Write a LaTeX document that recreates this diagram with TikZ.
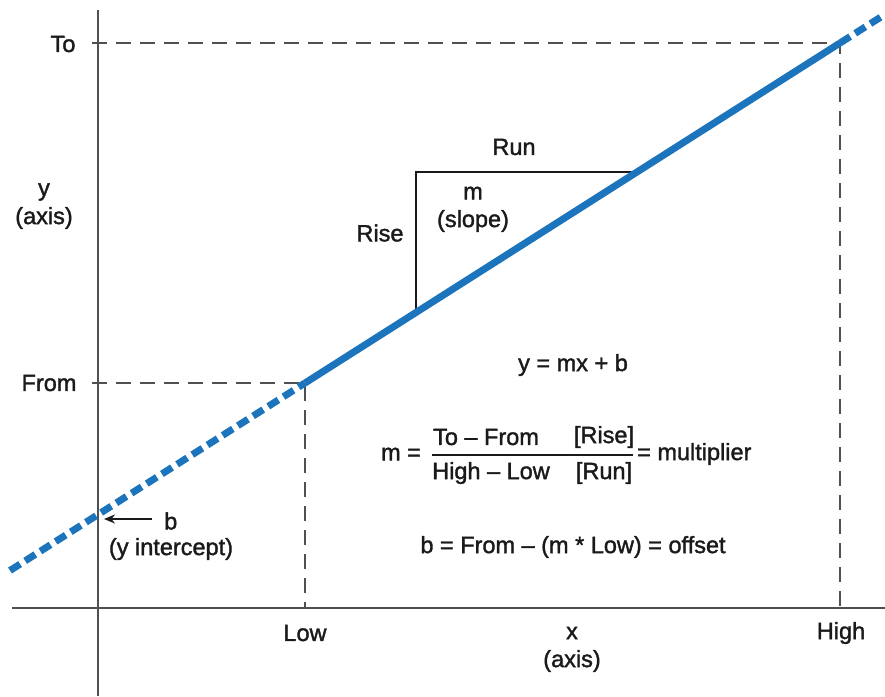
\documentclass[tikz,border=0pt]{standalone}
\usepackage{fontspec}
\setmainfont{Liberation Sans}[FakeBold=1.5]
\usetikzlibrary{arrows.meta}
\definecolor{lineblue}{HTML}{1C75BC}
\definecolor{axisgray}{HTML}{505050}
\definecolor{txt}{HTML}{1A1A1A}
\begin{document}
\begin{tikzpicture}[x=1pt,y=-1pt,
  lbl/.style={inner sep=0pt,text=txt,font=\fontsize{23.5}{27}\selectfont,anchor=center},
  axisline/.style={draw=axisgray,line width=1.5pt},
  guide/.style={draw=axisgray,line width=1.3pt,dash pattern=on 15pt off 9pt},
  solidblue/.style={draw=lineblue,line width=7pt},
  dashblue/.style={draw=lineblue,line width=7pt,dash pattern=on 12pt off 6pt},
  tri/.style={draw=txt,line width=1.8pt}]
\useasboundingbox (0,0) rectangle (885,696);
% coordinates
\coordinate (ytop) at (98,10);
\coordinate (ybot) at (98,696);
\coordinate (xl) at (12,608);
\coordinate (xr) at (885,608);
\coordinate (P1) at (305,383);
\coordinate (P2) at (840,43);
\coordinate (Pend1) at (10,570.5);
\coordinate (Pend2) at (882,16.3);
\coordinate (toL) at (92,43);
\coordinate (fromL) at (92,383);
\coordinate (lowB) at (305,608);
\coordinate (highB) at (840,608);
\coordinate (triB) at (416,312.5);
\coordinate (triC) at (416,172);
\coordinate (triR) at (637,172);
\coordinate (arS) at (152,519);
\coordinate (arE) at (104,519);
% axes
\draw[axisline] (ytop) -- (ybot);
\draw[axisline] (xl) -- (xr);
% guides
\draw[guide] (toL) -- (P2) -- (highB);
\draw[guide] (fromL) -- (P1) -- (lowB);
% triangle
\draw[tri] (triB) -- (triC) -- (triR);
% line
\draw[dashblue] (Pend1) -- (P1);
\draw[dashblue] (P2) -- (Pend2);
\draw[solidblue,line cap=butt] (P1) -- (P2);
% arrow
\draw[draw=txt,line width=1.8pt,-{Stealth[length=11pt,width=9pt]}] (arS) -- (arE);
% labels
\node[lbl] (lto) at (63,44) {To};
\node[lbl] (lfrom) at (49,383) {From};
\node[lbl] (ly) at (44,192) {y};
\node[lbl] (lyaxis) at (44,218) {(axis)};
\node[lbl] (lrise) at (380,233) {Rise};
\node[lbl] (lrun) at (514,147) {Run};
\node[lbl] (lm) at (473,193) {m};
\node[lbl] (lslope) at (473,221) {(slope)};
\node[lbl] (leq) at (573,365) {y = mx + b};
\node[lbl] (lmeq) at (401,454) {m =};
\node[lbl] (lnum) at (486,437) {To – From};
\node[lbl] (lrisebr) at (604,437) {[Rise]};
\node[lbl] (lden) at (491,473) {High – Low};
\node[lbl] (lrunbr) at (604,473) {[Run]};
\coordinate (barL) at (432,455);
\coordinate (barR) at (633,455);
\draw[draw=txt,line width=1.8pt] (barL) -- (barR);
\node[lbl,anchor=west] (lmult) at (637,454) {= multiplier};
\node[lbl] (lbeq) at (573,547) {b = From – (m * Low) = offset};
\node[lbl,anchor=west] (lb) at (164,521) {b};
\node[lbl] (lyint) at (171,549) {(y intercept)};
\node[lbl] (llow) at (305,633) {Low};
\node[lbl] (lx) at (572,633) {x};
\node[lbl] (lxaxis) at (572,661) {(axis)};
\node[lbl] (lhigh) at (841,633) {High};
\end{tikzpicture}
\end{document}
